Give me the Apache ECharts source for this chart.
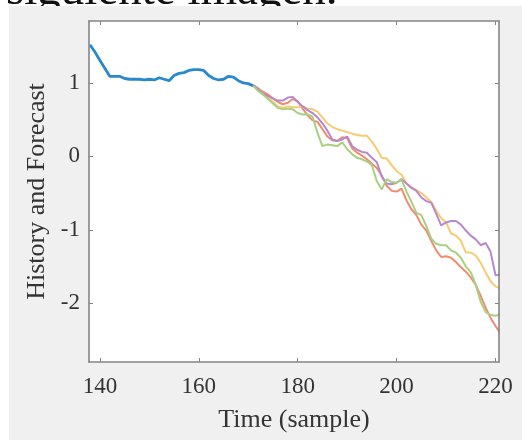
<!DOCTYPE html>
<html>
<head>
<meta charset="utf-8">
<script src="https://cdn.jsdelivr.net/npm/echarts@6/dist/echarts.min.js"></script>
<style>
html,body{margin:0;padding:0;background:#ffffff;}
#c{width:522px;height:442px;}
</style>
</head>
<body>
<div id="c"></div>
<script>
// ---- data ----
var histStart = 138;
var histValues = [1.52,1.42,1.31,1.20,1.09,1.09,1.09,1.06,1.05,1.05,1.05,1.04,1.05,1.04,1.07,1.05,1.03,1.10,1.13,1.14,1.17,1.18,1.18,1.17,1.10,1.06,1.04,1.05,1.09,1.08,1.03,1.00,0.99,0.96];
var fcStart = 171;
var fcRed = [0.97,0.92,0.88,0.84,0.79,0.74,0.71,0.73,0.78,0.75,0.65,0.56,0.49,0.47,0.37,0.27,0.22,0.21,0.26,0.25,0.11,0.05,0.01,-0.04,-0.10,-0.16,-0.26,-0.40,-0.47,-0.48,-0.44,-0.60,-0.72,-0.80,-0.93,-1.01,-1.15,-1.28,-1.37,-1.36,-1.38,-1.44,-1.51,-1.57,-1.65,-1.75,-1.90,-2.06,-2.20,-2.31,-2.41];
var fcYellow = [0.96,0.93,0.87,0.80,0.74,0.68,0.66,0.68,0.67,0.67,0.68,0.65,0.64,0.61,0.53,0.45,0.40,0.37,0.35,0.33,0.31,0.29,0.28,0.28,0.20,0.10,-0.02,-0.03,-0.12,-0.20,-0.25,-0.37,-0.42,-0.46,-0.50,-0.56,-0.62,-0.74,-0.84,-0.90,-1.05,-1.08,-1.15,-1.31,-1.31,-1.35,-1.45,-1.58,-1.70,-1.77,-1.80];
var fcPurple = [0.97,0.92,0.86,0.82,0.79,0.76,0.76,0.80,0.81,0.74,0.68,0.63,0.59,0.53,0.45,0.35,0.23,0.21,0.23,0.27,0.14,0.09,0.06,0.05,-0.02,-0.08,-0.28,-0.37,-0.38,-0.36,-0.31,-0.37,-0.43,-0.47,-0.56,-0.61,-0.63,-0.78,-0.94,-0.90,-0.88,-0.88,-0.93,-1.01,-1.08,-1.13,-1.21,-1.18,-1.30,-1.62,-1.61];
var fcGreen = [0.96,0.89,0.84,0.78,0.72,0.66,0.64,0.65,0.64,0.59,0.57,0.57,0.54,0.32,0.14,0.16,0.15,0.14,0.19,0.10,0.03,-0.02,-0.04,-0.07,-0.12,-0.34,-0.45,-0.31,-0.35,-0.36,-0.32,-0.48,-0.62,-0.77,-0.80,-0.95,-1.12,-1.19,-1.21,-1.21,-1.28,-1.31,-1.38,-1.50,-1.58,-1.75,-1.98,-2.12,-2.16,-2.17,-2.15];
var xTicks = [140,160,180,200,220];
var yTicks = [-2,-1,0,1];

function pairs(start, vals){ return vals.map(function(v,i){ return [start+i, v]; }); }

var FONT = 'Liberation Serif';
var axisCol = '#858585';
var chart = echarts.init(document.getElementById('c'), null, {renderer:'canvas'});

function boxAxis(pos, isX){
  return {
    type:'value', position:pos, min: isX?137.8:-2.8, max: isX?220.7:1.843, z:10,
    axisLine:{show:true, onZero:false, lineStyle:{color:axisCol, width:1.6}},
    axisTick:{show:true, inside:true, length:4, customValues: isX?xTicks:yTicks, lineStyle:{color:axisCol, width:1}},
    axisLabel:{show:false}, splitLine:{show:false}
  };
}

var lineOpt = function(name, data, color, width){
  return {name:name, type:'line', data:data, showSymbol:false, symbol:'none', smooth:false,
    lineStyle:{color:color, width:width}, itemStyle:{color:color}, z:5, animation:false};
};

chart.setOption({
  animation:false,
  backgroundColor:'#ffffff',
  graphic:[
    {type:'text', left:6, top:-32, z:-3, style:{text:'siguiente imagen.', font:'47px "Liberation Serif"', fill:'#111'}},
    {type:'rect', shape:{x:9, y:6, width:513, height:434}, style:{fill:'#f0f0f0'}, z:-2, silent:true},
    {type:'rect', shape:{x:89, y:21, width:410, height:341}, style:{fill:'#ffffff'}, z:-1, silent:true}
  ],
  grid:{left:89, right:23, top:21, bottom:80, containLabel:false},
  xAxis:[
    {type:'value', position:'bottom', min:137.8, max:220.7, z:10,
     name:'Time (sample)', nameLocation:'middle', nameGap:45,
     nameTextStyle:{fontFamily:FONT, fontSize:26, color:'#333'},
     axisLine:{show:true, onZero:false, lineStyle:{color:axisCol, width:1.6}},
     axisTick:{show:true, inside:true, length:4, customValues:xTicks, lineStyle:{color:axisCol, width:1}},
     axisLabel:{show:true, customValues:xTicks, margin:13, fontFamily:FONT, fontSize:23, color:'#333'},
     splitLine:{show:false}},
    boxAxis('top', true)
  ],
  yAxis:[
    {type:'value', position:'left', min:-2.8, max:1.843, z:10,
     name:'History and Forecast', nameLocation:'middle', nameGap:34, nameRotate:90,
     nameTextStyle:{fontFamily:FONT, fontSize:26, color:'#333'},
     axisLine:{show:true, onZero:false, lineStyle:{color:axisCol, width:1.6}},
     axisTick:{show:true, inside:true, length:4, customValues:yTicks, lineStyle:{color:axisCol, width:1}},
     axisLabel:{show:true, customValues:yTicks, margin:9, fontFamily:FONT, fontSize:23, color:'#333'},
     splitLine:{show:false}},
    boxAxis('right', false)
  ],
  series:[
    lineOpt('History', pairs(histStart, histValues), '#2a88cc', 2.8),
    lineOpt('Forecast 1', pairs(fcStart, fcRed), '#ef8c6f', 2),
    lineOpt('Forecast 2', pairs(fcStart, fcYellow), '#f8cb72', 2),
    lineOpt('Forecast 3', pairs(fcStart, fcPurple), '#b888cb', 2),
    lineOpt('Forecast 4', pairs(fcStart, fcGreen), '#a9d080', 2)
  ]
});
</script>
</body>
</html>
